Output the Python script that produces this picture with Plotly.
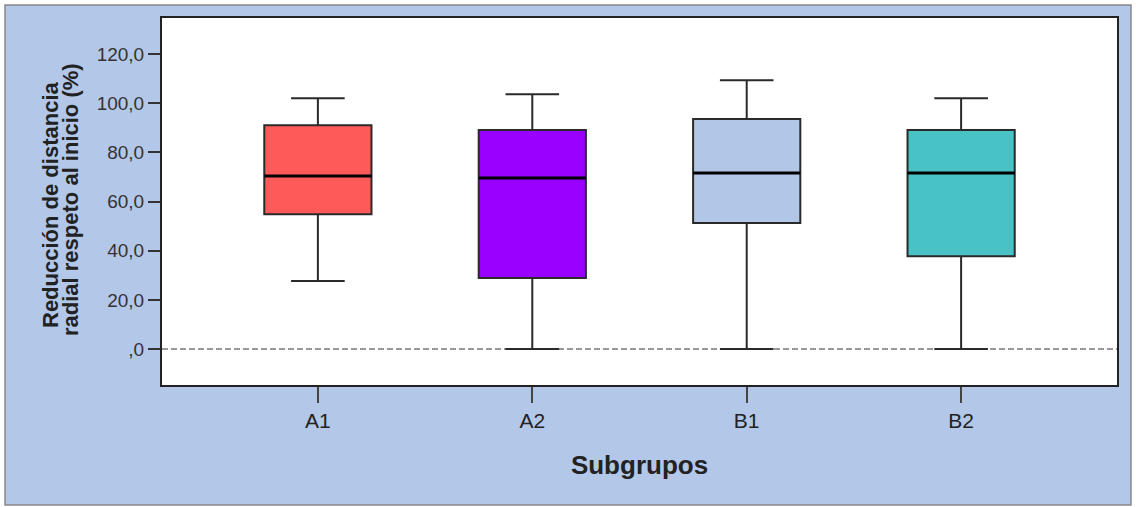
import plotly.graph_objects as go

categories = ["A1", "A2", "B1", "B2"]
lower_whisker = [27.7, 0.0, 0.0, 0.0]
q1_vals = [54.9, 28.9, 51.3, 37.8]
median_vals = [70.4, 69.6, 71.6, 71.6]
q3_vals = [91.1, 89.1, 93.6, 89.1]
upper_whisker = [102.1, 103.7, 109.4, 102.1]
box_colors = ["#FF5A5A", "#9900FF", "#B2C6E8", "#48C2C5"]
y_tickvals = [0, 20, 40, 60, 80, 100, 120]
y_ticktext = [",0", "20,0", "40,0", "60,0", "80,0", "100,0", "120,0"]
y_title_lines = ["Reducción de distancia", "radial respeto al inicio (%)"]
x_title = "Subgrupos"

BOX_W = 0.5
positions = list(range(len(categories)))

fig = go.Figure()
for i, cat in enumerate(categories):
    fig.add_trace(go.Box(
        x=[positions[i]], q1=[q1_vals[i]], median=[median_vals[i]], q3=[q3_vals[i]],
        lowerfence=[lower_whisker[i]], upperfence=[upper_whisker[i]],
        width=BOX_W, whiskerwidth=0.5,
        fillcolor=box_colors[i], line=dict(color="#2a2a2a", width=2),
        name=cat, showlegend=False, hoverinfo="skip",
    ))
    # thicker median line
    fig.add_trace(go.Scatter(
        x=[positions[i] - BOX_W / 2, positions[i] + BOX_W / 2],
        y=[median_vals[i], median_vals[i]], mode="lines",
        line=dict(color="#000000", width=3), showlegend=False, hoverinfo="skip",
    ))

font_family = "Liberation Sans, Arial, sans-serif"

# pixel -> paper helpers (plot area: x 162..1117, y 18..385)
def px_x(p):
    return (p - 162) / 955.0

def px_y(p):
    return (385 - p) / 367.0

fig.update_layout(
    width=1136, height=507,
    margin=dict(l=162, r=19, t=18, b=122),
    paper_bgcolor="#FFFFFF",
    plot_bgcolor="#FFFFFF",
    font=dict(family=font_family, color="#333333"),
    xaxis=dict(
        range=[-0.727, 3.727], tickvals=positions, ticktext=categories,
        showgrid=False, zeroline=False, showline=True, linecolor="#222222", linewidth=2,
        mirror=True, ticks="outside", ticklen=16, tickcolor="#444444", tickwidth=1.5,
        tickfont=dict(size=21, color="#222222"),
        title=dict(text="<b>" + x_title + "</b>", font=dict(size=26, color="#222222"), standoff=25),
    ),
    yaxis=dict(
        range=[-14.6, 134.7], tickvals=y_tickvals, ticktext=y_ticktext,
        showgrid=False, zeroline=False, showline=True, linecolor="#222222", linewidth=2,
        mirror=True, ticks="outside", ticklen=12, tickcolor="#333333", tickwidth=1.5,
        tickfont=dict(size=19, color="#333333"),
    ),
    annotations=[
        dict(text="<b>" + y_title_lines[0] + "</b>", xref="paper", yref="paper",
             x=px_x(50), y=px_y(205), xanchor="center", yanchor="middle",
             textangle=-90, showarrow=False, font=dict(size=22, color="#222222")),
        dict(text="<b>" + y_title_lines[1] + "</b>", xref="paper", yref="paper",
             x=px_x(70), y=px_y(200), xanchor="center", yanchor="middle",
             textangle=-90, showarrow=False, font=dict(size=22, color="#222222")),
    ],
    shapes=[
        dict(type="rect", xref="paper", yref="paper", x0=px_x(5), x1=px_x(1131), y0=px_y(505), y1=px_y(5),
             fillcolor="#B3C7E8", line=dict(color="#888888", width=1.5), layer="below"),
        dict(type="rect", xref="paper", yref="paper", x0=0, x1=1, y0=0, y1=1,
             fillcolor="#FFFFFF", line=dict(width=0), layer="below"),
        dict(type="line", xref="paper", yref="y", x0=0, x1=1, y0=0, y1=0,
             line=dict(color="#999999", width=2, dash="6px,3px"), layer="below"),
    ],
)

fig.write_html("out.html")
